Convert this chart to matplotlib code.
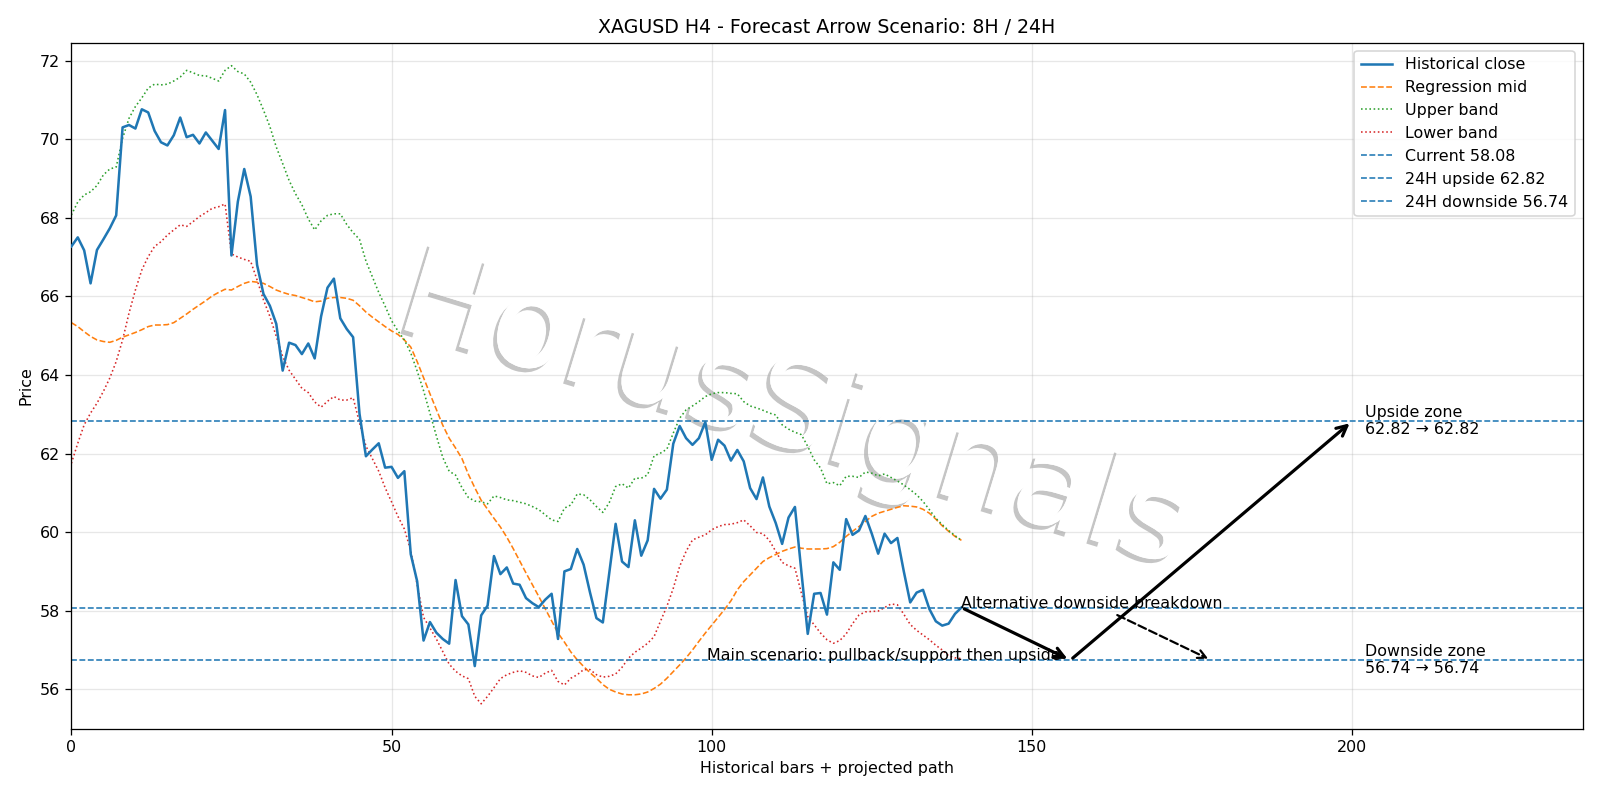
import numpy as np
import matplotlib
matplotlib.use("Agg")
import matplotlib.pyplot as plt
import matplotlib.patheffects as pe

# ---------------- data ----------------
close = [67.27, 67.50, 67.17, 66.33, 67.18, 67.45, 67.73, 68.06, 70.30, 70.36,
         70.27, 70.76, 70.68, 70.21, 69.92, 69.84, 70.10, 70.55, 70.05, 70.11,
         69.89, 70.17, 69.96, 69.75, 70.74, 67.04, 68.41, 69.24, 68.54, 66.80,
         66.06, 65.76, 65.30, 64.11, 64.82, 64.76, 64.53, 64.80, 64.42, 65.49,
         66.22, 66.45, 65.44, 65.17, 64.96, 63.01, 61.93, 62.10, 62.26, 61.64,
         61.66, 61.38, 61.55, 59.44, 58.75, 57.24, 57.71, 57.44, 57.28, 57.16,
         58.78, 57.86, 57.65, 56.59, 57.88, 58.13, 59.39, 58.93, 59.10, 58.69,
         58.66, 58.32, 58.19, 58.09, 58.28, 58.43, 57.28, 59.00, 59.06, 59.57,
         59.17, 58.46, 57.81, 57.70, 58.95, 60.21, 59.25, 59.11, 60.30, 59.40,
         59.79, 61.10, 60.85, 61.08, 62.25, 62.70, 62.39, 62.22, 62.39, 62.80,
         61.84, 62.35, 62.20, 61.82, 62.09, 61.80, 61.12, 60.84, 61.39, 60.65,
         60.23, 59.70, 60.37, 60.64, 59.00, 57.41, 58.43, 58.45, 57.90, 59.23,
         59.04, 60.33, 59.93, 60.04, 60.41, 59.96, 59.45, 59.96, 59.72, 59.85,
         59.00, 58.21, 58.46, 58.53, 58.04, 57.73, 57.62, 57.67, 57.92, 58.08]

reg_mid = [65.33, 65.23, 65.10, 64.98, 64.89, 64.85, 64.83, 64.88, 64.96, 65.02,
           65.08, 65.15, 65.23, 65.27, 65.27, 65.28, 65.33, 65.44, 65.55, 65.67,
           65.78, 65.89, 66.01, 66.10, 66.18, 66.16, 66.25, 66.33, 66.38, 66.36,
           66.33, 66.25, 66.16, 66.10, 66.05, 66.02, 65.97, 65.92, 65.86, 65.88,
           65.95, 65.97, 65.97, 65.95, 65.90, 65.76, 65.60, 65.47, 65.35, 65.23,
           65.12, 65.03, 64.89, 64.71, 64.34, 63.93, 63.52, 63.12, 62.72, 62.39,
           62.14, 61.87, 61.47, 61.13, 60.81, 60.58, 60.35, 60.13, 59.87, 59.58,
           59.27, 58.96, 58.66, 58.36, 58.05, 57.74, 57.43, 57.20, 56.95, 56.75,
           56.58, 56.42, 56.28, 56.12, 56.00, 55.93, 55.88, 55.86, 55.86, 55.88,
           55.93, 56.02, 56.13, 56.28, 56.45, 56.62, 56.80, 57.00, 57.22, 57.43,
           57.63, 57.83, 58.03, 58.25, 58.53, 58.74, 58.91, 59.08, 59.25, 59.35,
           59.43, 59.51, 59.57, 59.62, 59.59, 59.57, 59.57, 59.57, 59.58, 59.63,
           59.74, 59.89, 60.02, 60.14, 60.27, 60.40, 60.48, 60.53, 60.58, 60.63,
           60.67, 60.66, 60.64, 60.58, 60.48, 60.33, 60.16, 60.02, 59.89, 59.79]

upper_band = [68.07, 68.40, 68.58, 68.66, 68.82, 69.09, 69.24, 69.29, 70.02, 70.53,
              70.83, 71.05, 71.30, 71.40, 71.38, 71.40, 71.48, 71.58, 71.75, 71.69,
              71.62, 71.61, 71.55, 71.48, 71.75, 71.87, 71.72, 71.66, 71.45, 71.13,
              70.74, 70.32, 69.80, 69.38, 68.95, 68.61, 68.33, 67.97, 67.69, 67.92,
              68.06, 68.10, 68.10, 67.83, 67.62, 67.45, 66.90, 66.50, 66.10, 65.75,
              65.38, 65.12, 64.89, 64.56, 64.10, 63.60, 63.02, 62.45, 61.90, 61.55,
              61.45, 61.13, 60.88, 60.79, 60.77, 60.72, 60.92, 60.88, 60.82, 60.80,
              60.76, 60.72, 60.65, 60.57, 60.44, 60.31, 60.27, 60.61, 60.69, 60.97,
              60.95, 60.82, 60.65, 60.50, 60.75, 61.16, 61.23, 61.12, 61.37, 61.37,
              61.46, 61.94, 62.01, 62.11, 62.52, 62.90, 63.11, 63.21, 63.32, 63.45,
              63.52, 63.55, 63.55, 63.53, 63.52, 63.32, 63.21, 63.16, 63.10, 63.03,
              62.98, 62.73, 62.62, 62.54, 62.48, 62.18, 61.84, 61.63, 61.23, 61.26,
              61.18, 61.42, 61.42, 61.39, 61.53, 61.50, 61.43, 61.48, 61.39, 61.30,
              61.20, 61.08, 60.95, 60.78, 60.57, 60.35, 60.19, 60.04, 59.91, 59.79]

lower_band = [61.75, 62.26, 62.73, 63.03, 63.28, 63.58, 63.92, 64.34, 64.89, 65.57,
              66.16, 66.67, 67.01, 67.27, 67.39, 67.56, 67.69, 67.82, 67.78, 67.90,
              68.03, 68.13, 68.24, 68.28, 68.35, 67.08, 67.00, 66.94, 66.89, 66.42,
              65.91, 65.49, 64.98, 64.47, 64.12, 63.89, 63.66, 63.55, 63.31, 63.18,
              63.33, 63.45, 63.36, 63.36, 63.42, 62.78, 62.19, 61.87, 61.55, 61.13,
              60.77, 60.40, 60.08, 59.53, 58.66, 57.83, 57.56, 57.28, 56.96, 56.64,
              56.46, 56.34, 56.27, 55.82, 55.63, 55.82, 56.04, 56.27, 56.37, 56.43,
              56.47, 56.43, 56.34, 56.30, 56.41, 56.48, 56.20, 56.11, 56.28, 56.37,
              56.50, 56.50, 56.37, 56.31, 56.33, 56.39, 56.56, 56.79, 56.94, 57.05,
              57.17, 57.34, 57.73, 58.11, 58.57, 59.13, 59.51, 59.80, 59.87, 59.93,
              60.06, 60.14, 60.19, 60.20, 60.24, 60.31, 60.16, 59.99, 59.96, 59.79,
              59.51, 59.23, 59.14, 59.08, 58.45, 57.85, 57.64, 57.43, 57.26, 57.17,
              57.24, 57.41, 57.67, 57.89, 57.97, 57.98, 57.99, 58.08, 58.17, 58.15,
              57.91, 57.65, 57.50, 57.38, 57.26, 57.12, 57.00, 56.85, 56.80, 56.78]

current_price = 58.08
upside_24h = 62.82
downside_24h = 56.74

# scenario path (x in bars)
main_path_x = [139, 156, 200]
main_path_y = [58.08, 56.74, 62.82]
alt_x = [139, 178]
alt_y = [58.08, 56.74]
zone_label_x = 202

title = "XAGUSD H4 - Forecast Arrow Scenario: 8H / 24H"

# ---------------- plot ----------------
DPI = 1600 / 14
fig = plt.figure(figsize=(14, 7), dpi=DPI)
ax = fig.add_axes([0.0446, 0.0893, 0.9445, 0.8571])

x = np.arange(len(close))
ax.plot(x, close, color="C0", lw=1.6, label="Historical close", zorder=3)
ax.plot(np.arange(len(reg_mid)), reg_mid, color="C1", ls="--", lw=1.0, label="Regression mid")
ax.plot(np.arange(len(upper_band)), upper_band, color="C2", ls=":", lw=1.0, label="Upper band")
ax.plot(np.arange(len(lower_band)), lower_band, color="C3", ls=":", lw=1.0, label="Lower band")
ax.axhline(current_price, color="C0", ls="--", lw=1.0, label=f"Current {current_price:.2f}")
ax.axhline(upside_24h, color="C0", ls="--", lw=1.0, label=f"24H upside {upside_24h:.2f}")
ax.axhline(downside_24h, color="C0", ls="--", lw=1.0, label=f"24H downside {downside_24h:.2f}")

# main scenario arrows
for i in range(len(main_path_x) - 1):
    ax.annotate("", xy=(main_path_x[i + 1], main_path_y[i + 1]),
                xytext=(main_path_x[i], main_path_y[i]),
                arrowprops=dict(arrowstyle="->", color="black", lw=2.0,
                                mutation_scale=16))
ax.text(main_path_x[1] - 1.5, downside_24h, "Main scenario: pullback/support then upside",
        ha="right", va="baseline", fontsize=10)

# alternative scenario
ax.annotate("Alternative downside breakdown", xy=(alt_x[1], alt_y[1]),
            xytext=(alt_x[0], alt_y[0]), fontsize=10,
            arrowprops=dict(arrowstyle="->", color="black", lw=1.4, ls="--",
                            mutation_scale=13))

ax.text(zone_label_x, upside_24h, f"Upside zone\n{upside_24h:.2f} \u2192 {upside_24h:.2f}",
        ha="left", va="center", fontsize=10)
ax.text(zone_label_x, downside_24h, f"Downside zone\n{downside_24h:.2f} \u2192 {downside_24h:.2f}",
        ha="left", va="center", fontsize=10)

# watermark
wm = ax.text(0.496, 0.484, "HorusSignals", transform=fig.transFigure,
             fontsize=79, color="white", rotation=-17, ha="center", va="center",
             zorder=0.5)
wm.set_path_effects([pe.withSimplePatchShadow(offset=(-2.5, -2.5), shadow_rgbFace="0.5",
                                              alpha=0.45), pe.Normal()])

ax.set_xlim(0, 236)
ax.set_ylim(55.0, 72.45)
ax.set_xticks([0, 50, 100, 150, 200])
ax.set_yticks([56, 58, 60, 62, 64, 66, 68, 70, 72])
ax.grid(True, alpha=0.3)
ax.set_title(title, fontsize=12)
ax.set_xlabel("Historical bars + projected path")
ax.set_ylabel("Price")
ax.legend(loc="upper right")

fig.savefig("out.png", dpi=DPI)
